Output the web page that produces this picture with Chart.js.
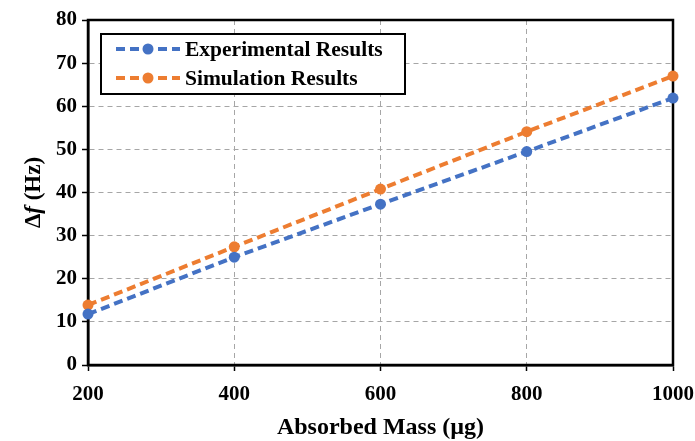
<!DOCTYPE html>
<html>
<head>
<meta charset="utf-8">
<script src="https://cdn.jsdelivr.net/npm/chart.js@4"></script>
<style>
  body { margin: 0; background: #fff; }
</style>
</head>
<body>
<canvas id="massChart" width="695" height="441"></canvas>
<script>
// data
var massLabels = [200, 400, 600, 800, 1000];
var experimental = [11.8, 25, 37.3, 49.5, 61.9];
var simulation = [13.9, 27.4, 40.8, 54.1, 67];
var seriesNames = ['Experimental Results', 'Simulation Results'];

var blue = '#4472C4';
var orange = '#ED7D31';
var serif = "'Liberation Serif', 'Times New Roman', serif";

function toPoints(values) {
    var pts = [];
    for (let i = 0; i < massLabels.length; i++) {
        pts.push({ x: massLabels[i], y: values[i] });
    }
    return pts;
}

// frame, legend and axis titles
var extras = {
    id: 'extras',
    beforeDatasetsDraw: function (chart) {
        var ctx = chart.ctx;
        var a = chart.chartArea;
        ctx.save();
        ctx.strokeStyle = '#000';
        ctx.lineWidth = 2.5;
        ctx.strokeRect(a.left, a.top, a.right - a.left, a.bottom - a.top);
        ctx.restore();
    },
    afterDraw: function (chart) {
        var ctx = chart.ctx;
        var a = chart.chartArea;
        ctx.save();

        // legend box
        ctx.fillStyle = '#fff';
        ctx.fillRect(101, 34, 304, 60);
        ctx.strokeStyle = '#000';
        ctx.lineWidth = 2;
        ctx.strokeRect(101, 34, 304, 60);
        var rows = [49, 78];
        chart.data.datasets.forEach(function (ds, i) {
            var y = rows[i];
            ctx.strokeStyle = ds.borderColor;
            ctx.lineWidth = 4;
            ctx.setLineDash([9, 5]);
            ctx.beginPath();
            ctx.moveTo(116, y);
            ctx.lineTo(180, y);
            ctx.stroke();
            ctx.setLineDash([]);
            ctx.fillStyle = ds.borderColor;
            ctx.beginPath();
            ctx.arc(148, y, 5.5, 0, Math.PI * 2);
            ctx.fill();
            ctx.fillStyle = '#000';
            ctx.font = 'bold 21.5px ' + serif;
            ctx.textAlign = 'left';
            ctx.textBaseline = 'middle';
            ctx.fillText(ds.label, 185, y + 1);
        });

        // x title
        ctx.fillStyle = '#000';
        ctx.font = 'bold 24px ' + serif;
        ctx.textAlign = 'center';
        ctx.textBaseline = 'middle';
        ctx.fillText('Absorbed Mass (µg)', (a.left + a.right) / 2, 428);

        // y title with italic f
        ctx.translate(34, (a.top + a.bottom) / 2);
        ctx.rotate(-Math.PI / 2);
        var parts = [['Δ', 'bold '], ['f', 'italic bold '], [' (Hz)', 'bold ']];
        var total = 0;
        parts.forEach(function (p) {
            ctx.font = p[1] + '23px ' + serif;
            total += ctx.measureText(p[0]).width;
        });
        var x = -total / 2;
        ctx.textAlign = 'left';
        parts.forEach(function (p) {
            ctx.font = p[1] + '23px ' + serif;
            ctx.fillText(p[0], x, 0);
            x += ctx.measureText(p[0]).width;
        });
        ctx.restore();
    }
};

var ctx = document.getElementById('massChart').getContext('2d');
window.myChart = new Chart(ctx, {
    type: 'line',
    data: {
        datasets: [
            {
                label: seriesNames[0],
                data: toPoints(experimental),
                borderColor: blue,
                backgroundColor: blue,
                borderWidth: 4,
                borderDash: [9, 5],
                pointRadius: 5.5,
                pointBorderWidth: 0,
                fill: false,
                clip: false,
                tension: 0
            },
            {
                label: seriesNames[1],
                data: toPoints(simulation),
                borderColor: orange,
                backgroundColor: orange,
                borderWidth: 4,
                borderDash: [9, 5],
                pointRadius: 5.5,
                pointBorderWidth: 0,
                fill: false,
                clip: false,
                tension: 0
            }
        ]
    },
    options: {
        responsive: false,
        devicePixelRatio: 1,
        animation: false,
        layout: { padding: { left: 0, right: 0, top: 20, bottom: 0 } },
        plugins: {
            legend: { display: false },
            tooltip: { enabled: false }
        },
        scales: {
            x: {
                type: 'linear',
                min: 200,
                max: 1000,
                afterFit: function (scale) {
                    scale.height = 76;
                    scale.paddingLeft = 0;
                    scale.paddingRight = 22;
                },
                ticks: {
                    stepSize: 200,
                    color: '#000',
                    padding: 11,
                    font: { family: serif, size: 21, weight: 'bold' },
                    callback: function (v) { return String(v); }
                },
                grid: {
                    color: '#a6a6a6',
                    lineWidth: 1,
                    tickColor: '#000',
                    tickLength: 6,
                    tickWidth: 1.5
                },
                border: { color: '#000', width: 2.5, dash: [5, 4] }
            },
            y: {
                min: 0,
                max: 80,
                afterFit: function (scale) {
                    scale.width = 88;
                    scale.paddingTop = 0;
                    scale.paddingBottom = 0;
                },
                ticks: {
                    stepSize: 10,
                    color: '#000',
                    padding: 5,
                    font: { family: serif, size: 21, weight: 'bold' }
                },
                grid: {
                    color: '#a6a6a6',
                    lineWidth: 1,
                    tickColor: '#000',
                    tickLength: 6,
                    tickWidth: 1.5
                },
                border: { color: '#000', width: 2.5, dash: [5, 4] }
            }
        }
    },
    plugins: [extras]
});
</script>
</body>
</html>
